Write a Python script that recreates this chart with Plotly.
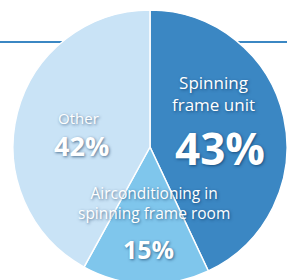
import plotly.graph_objects as go

labels = ["Spinning frame unit", "Airconditioning in spinning frame room", "Other"]
label_lines = ["Spinning<br>frame unit", "Airconditioning in<br>spinning frame room", "Other"]
values = [43, 15, 42]
colors = ["#3b87c3", "#7fc6ec", "#c9e3f6"]

W, H = 287, 292  # page is clipped to 280 px by the window; pie runs off the bottom
CX, CY, R = 150, 147, 137
fig = go.Figure(go.Pie(
    labels=labels,
    values=values,
    sort=False,
    direction="clockwise",
    rotation=0,
    textinfo="none",
    hoverinfo="label+percent",
    marker=dict(colors=colors, line=dict(color="white", width=1.5)),
    domain=dict(x=[(CX - R) / W, min(1, (CX + R) / W)],
                y=[1 - (CY + R) / H, 1 - (CY - R) / H]),
    showlegend=False,
))

# decorative horizontal rule behind the pie
fig.add_shape(type="line", xref="paper", yref="paper", x0=0, x1=1,
              y0=1 - 42 / H, y1=1 - 42 / H, layer="below",
              line=dict(color="#3b87c3", width=2))

shadow = "1px 1px 3px rgba(0,40,80,0.6)"
font = "Open Sans, DejaVu Sans, sans-serif"
anns = [
    # (text, x, y, size, bold)
    (label_lines[0], 213, 94, 17, False),
    (f"{values[0]}%", 220, 148, 44, True),
    (label_lines[2], 78, 118, 15, False),
    (f"{values[2]}%", 81, 145, 27, True),
    (label_lines[1], 154, 203, 15.5, False),
    (f"{values[1]}%", 148, 249, 25, True),
]
for text, x, y, size, bold in anns:
    t = f"<b>{text}</b>" if bold else text
    fig.add_annotation(x=x / W, y=1 - y / H, xref="paper", yref="paper",
                       text=t, showarrow=False, xanchor="center", yanchor="middle",
                       align="center",
                       font=dict(family=font, size=size, color="white", shadow=shadow))

fig.update_layout(width=W, height=H, margin=dict(l=0, r=0, t=0, b=0),
                  paper_bgcolor="white", plot_bgcolor="white")
fig.write_html("out.html", config={"displayModeBar": False},
               post_script="document.body.style.margin='0';document.body.style.overflow='hidden';"
                           "document.documentElement.style.overflow='hidden';")
